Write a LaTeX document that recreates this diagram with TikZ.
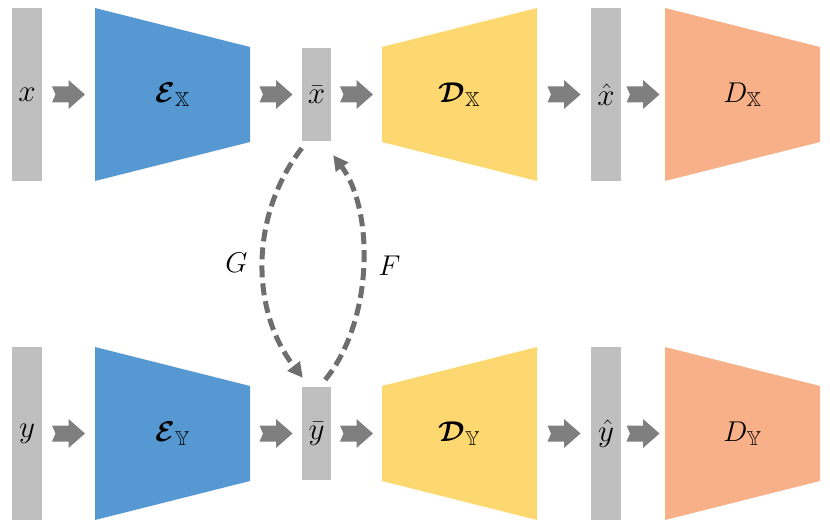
\documentclass[tikz,border=0pt]{standalone}
\usepackage{amsmath,amssymb,bm,graphicx}
\usetikzlibrary{calc,arrows.meta}
\definecolor{barc}{HTML}{BFBFBF}
\definecolor{encc}{HTML}{5598D2}
\definecolor{decc}{HTML}{FDD870}
\definecolor{disc}{HTML}{F7B088}
\definecolor{arrc}{HTML}{7F7F7F}
\definecolor{dashc}{HTML}{6E6E6E}
\newcommand\lowvar[1]{\scalebox{1.25}{$#1$}}
\newcommand\boxvar[1]{\scalebox{1.15}{$#1$}}
\tikzset{
  every node/.style={font=\fontsize{25}{30}\selectfont, inner sep=0pt},
  bar/.style={fill=barc, minimum width=30pt, minimum height=173pt},
  sbar/.style={fill=barc, minimum width=29pt, minimum height=93pt},
  shrink/.style={minimum width=155pt, minimum height=173pt,
    path picture={\fill[#1] (path picture bounding box.north west)
      -- ($(path picture bounding box.north east)+(0,-39pt)$)
      -- ($(path picture bounding box.south east)+(0,39pt)$)
      -- (path picture bounding box.south west) -- cycle;}},
  grow/.style={minimum width=155pt, minimum height=173pt,
    path picture={\fill[#1] ($(path picture bounding box.north west)+(0,-39pt)$)
      -- (path picture bounding box.north east)
      -- (path picture bounding box.south east)
      -- ($(path picture bounding box.south west)+(0,39pt)$) -- cycle;}},
  blockarrow/.pic={\fill[arrc] (-16.5,-8) -- (-13,0) -- (-16.5,8) -- (0,8) -- (0,14.5)
      -- (16.5,0) -- (0,-14.5) -- (0,-8) -- cycle;},
  cyc/.style={draw=dashc, line width=5pt, dash pattern=on 12pt off 6pt,
    -{Triangle[length=15pt,width=15pt]}},
}
\newcommand\conn[2]{\pic at ($(#1.east)!0.5!(#2.west)$) {blockarrow};}
\begin{document}
\begin{tikzpicture}[x=1pt,y=-1pt]
\useasboundingbox (0,0) rectangle (830,526);
% top row
\node[bar] (xin) at (27,94.5) {\lowvar{x}};
\node[shrink=encc] (encX) at (172.5,94.5) {\boxvar{\boldsymbol{\mathcal{E}}_{\mathbb{X}}}};
\node[sbar] (xbar) at (316.5,94.5) {\lowvar{\bar{x}}};
\node[grow=decc] (decX) at (459.5,94.5) {\boxvar{\boldsymbol{\mathcal{D}}_{\mathbb{X}}}};
\node[bar] (xhat) at (606,94.5) {\lowvar{\hat{x}}};
\node[shrink=disc] (disX) at (742.5,94.5) {\boxvar{D_{\mathbb{X}}}};
% bottom row
\node[bar] (yin) at (27,433.5) {\lowvar{y}};
\node[shrink=encc] (encY) at (172.5,433.5) {\boxvar{\boldsymbol{\mathcal{E}}_{\mathbb{Y}}}};
\node[sbar] (ybar) at (316.5,433.5) {\lowvar{\bar{y}}};
\node[grow=decc] (decY) at (459.5,433.5) {\boxvar{\boldsymbol{\mathcal{D}}_{\mathbb{Y}}}};
\node[bar] (yhat) at (606,433.5) {\lowvar{\hat{y}}};
\node[shrink=disc] (disY) at (742.5,433.5) {\boxvar{D_{\mathbb{Y}}}};
% block arrows
\conn{xin}{encX} \conn{encX}{xbar} \conn{xbar}{decX} \conn{decX}{xhat} \conn{xhat}{disX}
\conn{yin}{encY} \conn{encY}{ybar} \conn{ybar}{decY} \conn{decY}{yhat} \conn{yhat}{disY}
% cycle mappings
\draw[cyc] ($(xbar.south west)+(0pt,-7pt)$) .. controls (250,215) and (250,310)
  .. ($(ybar.north west)+(1pt,9pt)$) node[pos=0.5,left=13pt] (G) {\boxvar{G}};
\draw[cyc] ($(ybar.north east)+(-6pt,7pt)$) .. controls (374,320) and (374,210)
  .. ($(xbar.south east)+(2pt,-14pt)$) node[pos=0.5,right=13pt] (F) {\boxvar{F}};
\end{tikzpicture}
\end{document}
